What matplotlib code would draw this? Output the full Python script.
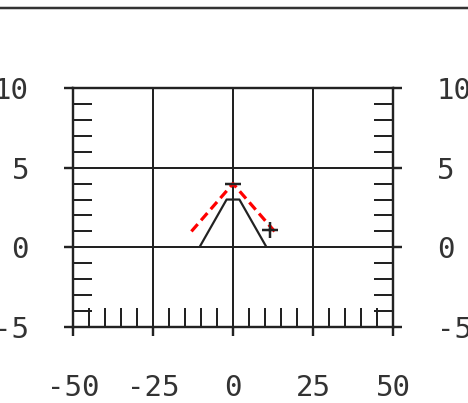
import numpy as np
import matplotlib
matplotlib.use("Agg")
import matplotlib.pyplot as plt
from matplotlib.lines import Line2D
from matplotlib.ticker import MultipleLocator

# data
solid_x = [-10.5, -2, 2, 10.5]
solid_y = [0, 3, 3, 0]
dash_x = [-13, 0, 13]
dash_y = [1, 4, 1]
cap_x, cap_y = [0], [4]
plus_x, plus_y = [11.5], [1.1]

x_ticks = [-50, -25, 0, 25, 50]
y_ticks = [-5, 0, 5, 10]

DPI = 100
px = 72 / DPI  # one pixel in points

plt.rcParams['axes.unicode_minus'] = False

fig = plt.figure(figsize=(4.68, 4.03), dpi=DPI)
ax = fig.add_axes([73 / 468, 76 / 403, 320 / 468, 239 / 403])

ink = '#222222'
ax.plot(solid_x, solid_y, color=ink, lw=2.2 * px, solid_capstyle='butt')
ax.plot(dash_x, dash_y, color='red', lw=3.2 * px, linestyle=(0, (3, 1.6)))
ax.plot(cap_x, cap_y, marker='_', color=ink, ms=16 * px, mew=2.5 * px, ls='none')
ax.plot(plus_x, plus_y, marker='+', color=ink, ms=16 * px, mew=2.5 * px, ls='none')

ax.set_xlim(-50, 50)
ax.set_ylim(-5, 10)
ax.set_xticks(x_ticks)
ax.set_yticks(y_ticks)
ax.xaxis.set_minor_locator(MultipleLocator(5))
ax.yaxis.set_minor_locator(MultipleLocator(1))

ax.grid(True, which='major', color=ink, lw=2 * px)
for s in ax.spines.values():
    s.set_linewidth(2.4 * px)
    s.set_color(ink)

ax.tick_params(which='major', direction='out', length=9 * px, width=2.4 * px,
               color=ink, labelsize=21, labelcolor='#333333')
ax.tick_params(which='minor', direction='in', length=19 * px, width=2 * px, color=ink)
ax.tick_params(axis='x', which='both', top=False, bottom=True, pad=38 * px)
ax.tick_params(axis='y', which='both', left=True, right=True,
               labelleft=True, labelright=True, pad=35 * px)
for lab in ax.get_xticklabels() + ax.get_yticklabels():
    lab.set_fontfamily('DejaVu Sans Mono')

# edge of the panel above
fig.add_artist(Line2D([0, 1], [1 - 8 / 403, 1 - 8 / 403], transform=fig.transFigure,
                      color='#333333', lw=2.5 * px))

fig.savefig('out.png', dpi=DPI)
